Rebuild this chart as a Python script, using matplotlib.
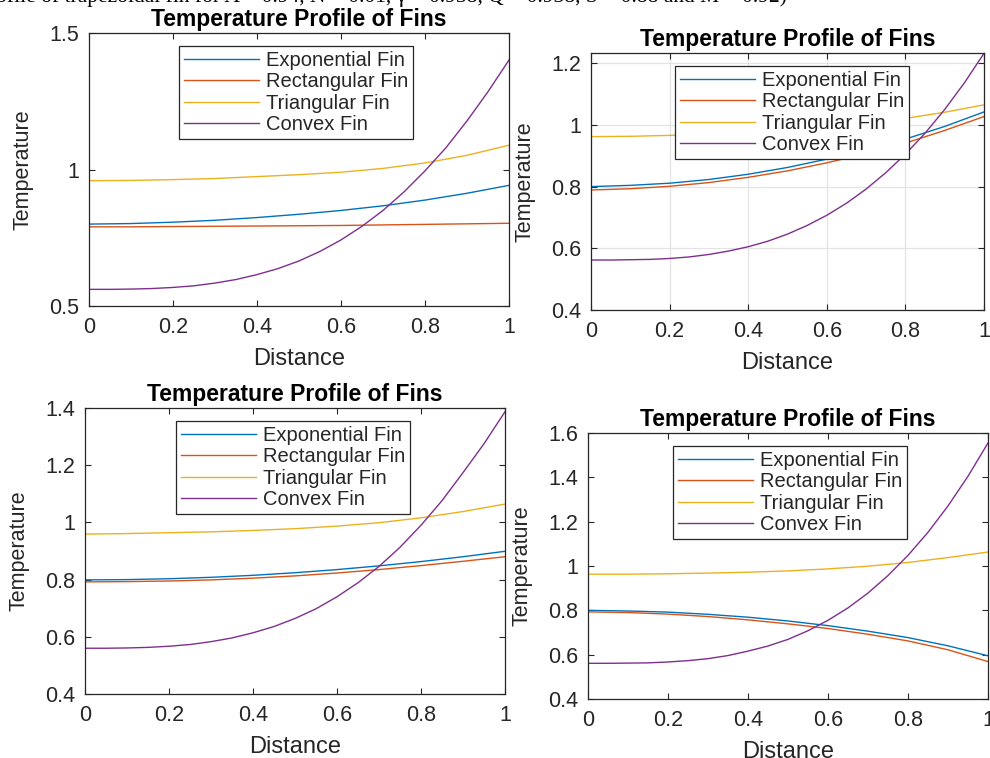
import matplotlib
matplotlib.use('Agg')
import matplotlib.pyplot as plt
import matplotlib.ticker as mticker

plt.rcParams['font.family'] = ['Liberation Sans', 'DejaVu Sans']

W, H = 990, 758

dist = [0.0, 0.1, 0.2, 0.3, 0.4, 0.5, 0.6, 0.7, 0.8, 0.9, 1.0]
dist_fine = [0.0, 0.05, 0.1, 0.15, 0.2, 0.25, 0.3, 0.35, 0.4, 0.45, 0.5,
             0.55, 0.6, 0.65, 0.7, 0.75, 0.8, 0.85, 0.9, 0.95, 1.0]

labels = ['Exponential Fin', 'Rectangular Fin', 'Triangular Fin', 'Convex Fin']
colors = ['#0072BD', '#D95319', '#EDB120', '#7E2F8E']

# top left
exp_a = [0.800, 0.802, 0.807, 0.814, 0.824, 0.836, 0.850, 0.867, 0.888, 0.913, 0.942]
rect_a = [0.790, 0.790, 0.791, 0.792, 0.793, 0.794, 0.795, 0.797, 0.799, 0.801, 0.803]
tri_a = [0.959, 0.960, 0.963, 0.967, 0.974, 0.981, 0.990, 1.004, 1.024, 1.052, 1.089]
conv_a = [0.561, 0.561, 0.562, 0.564, 0.568, 0.574, 0.584, 0.597, 0.615, 0.637, 0.665,
          0.700, 0.742, 0.792, 0.850, 0.918, 0.995, 1.080, 1.178, 1.285, 1.401]

# top right
exp_b = [0.800, 0.804, 0.811, 0.823, 0.840, 0.862, 0.889, 0.919, 0.954, 0.995, 1.042]
rect_b = [0.789, 0.793, 0.801, 0.813, 0.830, 0.851, 0.877, 0.907, 0.941, 0.982, 1.027]
tri_b = [0.962, 0.963, 0.966, 0.970, 0.976, 0.984, 0.994, 1.006, 1.021, 1.041, 1.065]
conv_b = [0.562, 0.562, 0.563, 0.564, 0.567, 0.572, 0.580, 0.591, 0.605, 0.623, 0.646,
          0.674, 0.707, 0.746, 0.792, 0.845, 0.905, 0.973, 1.050, 1.136, 1.232]

# bottom left
exp_c = [0.799, 0.800, 0.803, 0.808, 0.815, 0.824, 0.835, 0.848, 0.863, 0.880, 0.899]
rect_c = [0.792, 0.793, 0.795, 0.799, 0.805, 0.813, 0.823, 0.835, 0.849, 0.864, 0.880]
tri_c = [0.959, 0.961, 0.964, 0.967, 0.972, 0.978, 0.987, 0.999, 1.016, 1.038, 1.064]
conv_c = [0.560, 0.560, 0.561, 0.563, 0.567, 0.573, 0.583, 0.596, 0.614, 0.636, 0.664,
          0.698, 0.740, 0.789, 0.846, 0.913, 0.990, 1.076, 1.174, 1.275, 1.387]

# bottom right
exp_d = [0.800, 0.797, 0.792, 0.782, 0.769, 0.752, 0.731, 0.706, 0.677, 0.640, 0.595]
rect_d = [0.793, 0.790, 0.783, 0.772, 0.757, 0.739, 0.718, 0.692, 0.662, 0.622, 0.569]
tri_d = [0.963, 0.963, 0.965, 0.968, 0.972, 0.978, 0.987, 0.999, 1.016, 1.038, 1.063]
conv_d = [0.561, 0.561, 0.562, 0.563, 0.567, 0.573, 0.582, 0.596, 0.616, 0.639, 0.669,
          0.708, 0.755, 0.811, 0.878, 0.957, 1.048, 1.152, 1.271, 1.405, 1.555]

panels = [
    # (left, top, right, bottom) px, ylim, yticks, grid, legend box (left, top) px, series
    ((89, 33, 509, 306), (0.5, 1.5), [0.5, 1.0, 1.5], False, (179, 46),
     (exp_a, rect_a, tri_a, conv_a)),
    ((591, 53, 984, 310), (0.4, 1.233), [0.4, 0.6, 0.8, 1.0, 1.2], True, (675, 66),
     (exp_b, rect_b, tri_b, conv_b)),
    ((85, 408, 505, 694), (0.4, 1.4), [0.4, 0.6, 0.8, 1.0, 1.2, 1.4], False, (176, 421),
     (exp_c, rect_c, tri_c, conv_c)),
    ((588, 433, 988, 699), (0.4, 1.6), [0.4, 0.6, 0.8, 1.0, 1.2, 1.4, 1.6], False, (673, 446),
     (exp_d, rect_d, tri_d, conv_d)),
]

fig = plt.figure(figsize=(W / 100, H / 100), dpi=100)

# caption line of the page above, cut off by the top edge
fig.text(-0.004, 1 - 2 / H,
         'ofile of trapezoidal fin for A = 0.94, N = 0.01, \u03b3 = 0.938, Q = 0.938, S = 0.88 and M = 0.92)',
         family=['Liberation Serif', 'DejaVu Serif'], fontsize=15.5, va='baseline', ha='left')

ink = '#262626'
for (l, t, r, b), ylim, yticks, grid, (lx, ly), series in panels:
    ax = fig.add_axes([l / W, 1 - b / H, (r - l) / W, (b - t) / H])
    ax.plot(dist, series[0], color=colors[0], lw=1.0, label=labels[0])
    ax.plot(dist, series[1], color=colors[1], lw=1.0, label=labels[1])
    ax.plot(dist, series[2], color=colors[2], lw=1.0, label=labels[2])
    ax.plot(dist_fine, series[3], color=colors[3], lw=1.0, label=labels[3])

    ax.set_xlim(0, 1)
    ax.set_ylim(*ylim)
    ax.set_xticks([0, 0.2, 0.4, 0.6, 0.8, 1.0])
    ax.set_yticks(yticks)
    ax.xaxis.set_major_formatter(mticker.FormatStrFormatter('%g'))
    ax.yaxis.set_major_formatter(mticker.FormatStrFormatter('%g'))
    ax.tick_params(direction='in', length=4, width=0.8, color=ink, labelcolor=ink,
                   labelsize=15.5, top=True, right=True)
    ax.tick_params(axis='x', pad=8)
    ax.tick_params(axis='y', pad=7)
    for sp in ax.spines.values():
        sp.set_color(ink)
        sp.set_linewidth(0.9)
    if grid:
        ax.grid(True, color='#e3e3e3', lw=0.9)
        ax.set_axisbelow(True)

    ax.set_title('Temperature Profile of Fins', fontsize=16.5, fontweight='bold', pad=5)
    ax.set_xlabel('Distance', fontsize=17, color=ink, labelpad=7)
    ax.set_ylabel('Temperature', fontsize=15.5, color=ink)
    ax.yaxis.set_label_coords(-0.133 * 420 / (r - l), 0.5)

    leg = ax.legend(loc='upper left', bbox_to_anchor=(lx / W, 1 - ly / H),
                    bbox_transform=fig.transFigure, borderaxespad=0,
                    fontsize=14.5, handlelength=3.7, handletextpad=0.35,
                    labelspacing=0.12, borderpad=0.25, fancybox=False,
                    framealpha=1, edgecolor=ink)
    leg.get_frame().set_linewidth(0.9)
    for txt in leg.get_texts():
        txt.set_color(ink)

fig.savefig('out.png', dpi=100)
